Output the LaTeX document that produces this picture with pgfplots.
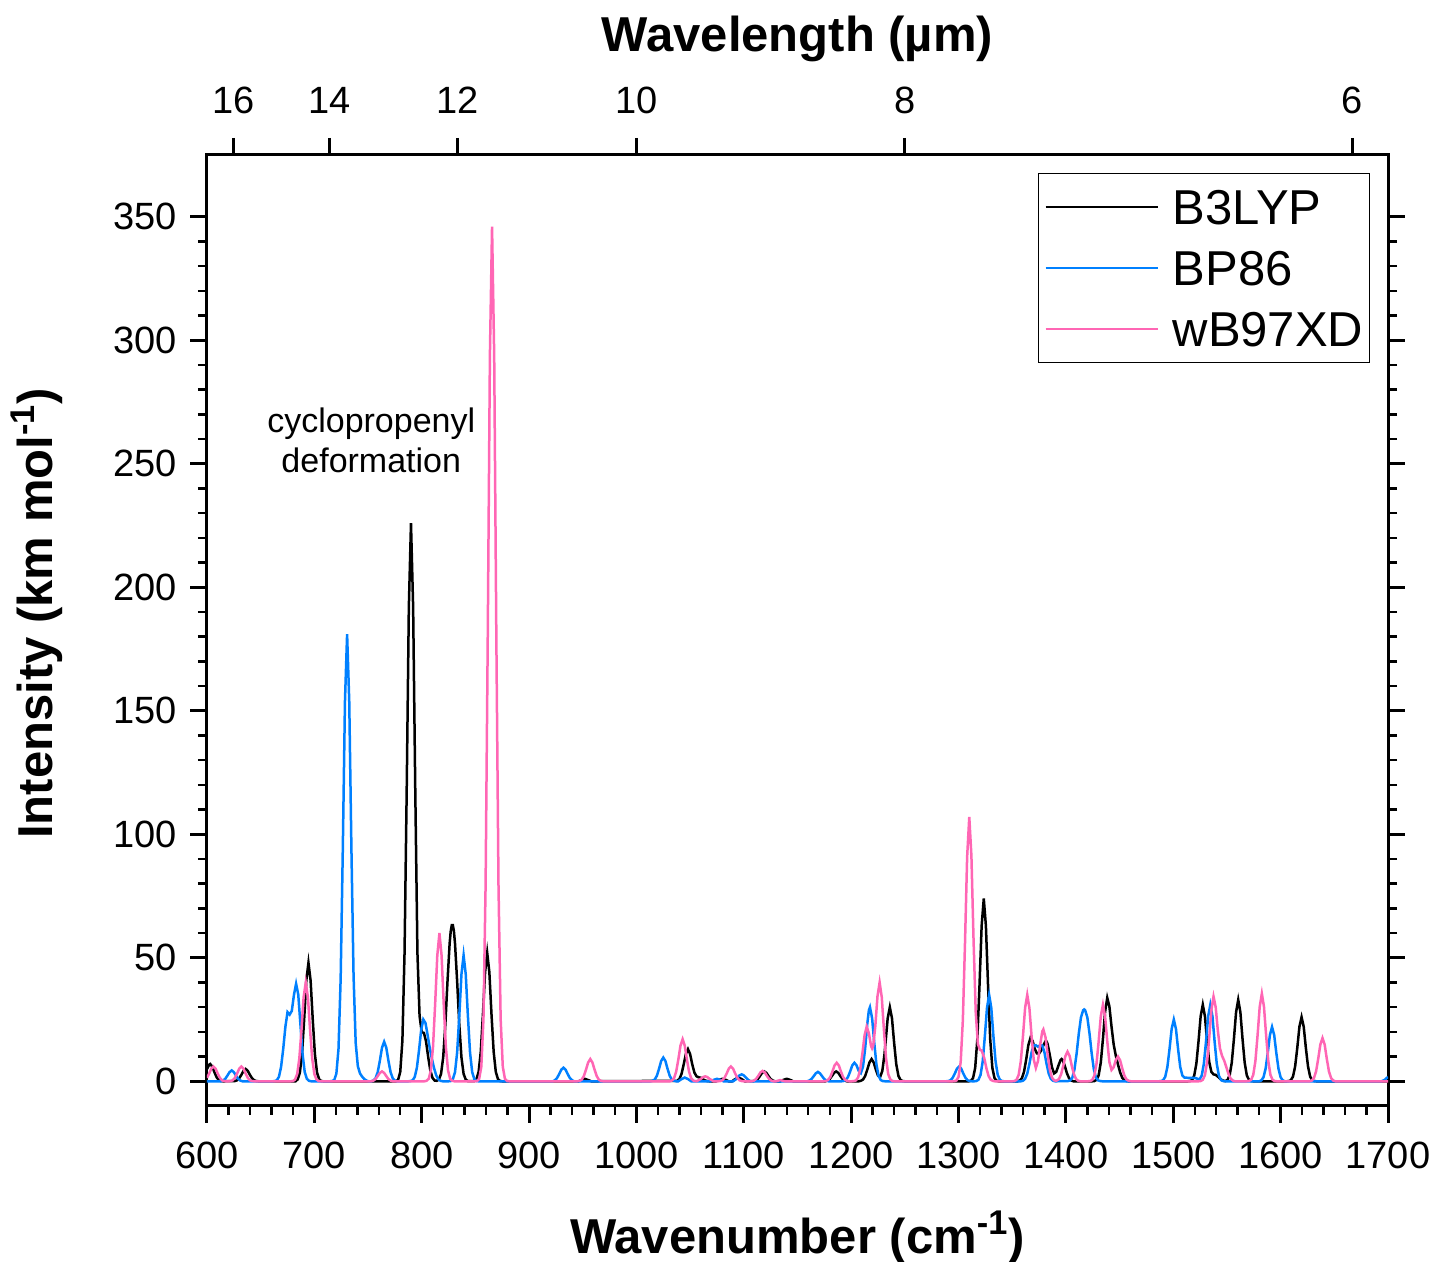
\documentclass[border=0pt]{standalone}
\usepackage{fontspec}
\setmainfont{Liberation Sans}
\usepackage{pgfplots}
\pgfplotsset{compat=1.18}
\definecolor{bpblue}{RGB}{0,128,255}
\definecolor{wbpink}{RGB}{255,102,180}
\begin{document}
\begin{tikzpicture}
\begin{axis}[name=main, scale only axis, width=590.5pt, height=475.5pt,
 xmin=600, xmax=1700, ymin=-10, ymax=375,
 xtick={600,700,...,1700}, ytick={0,50,...,350},
 minor x tick num=4, minor y tick num=4,
 xtick pos=left, ytick pos=both,
 tick align=outside,
 major tick length=8.5pt, minor tick length=4.5pt,
 every major tick/.append style={line width=1.5pt, black},
 every minor tick/.append style={line width=1.2pt, black},
 axis line style={line width=1.5pt},
 ticklabel style={font=\fontsize{19}{21}\selectfont},
 xticklabel style={yshift=-6pt},
 yticklabel style={xshift=-3pt},
 /pgf/number format/assume math mode=true,
 /pgf/number format/1000 sep={},
 xlabel={Wavenumber (cm\textsuperscript{-1})},
 ylabel={Intensity (km mol\textsuperscript{-1})},
 label style={font=\bfseries\fontsize{24.5}{28}\selectfont},
 xlabel style={at={(axis description cs:0.5,-0.1546)}, anchor=base},
 ylabel style={at={(axis description cs:-0.1310,0.518)}, anchor=base},
 legend style={at={(axis description cs:0.9848,0.9811)}, anchor=north east, draw=black, line width=0.75pt,
   inner xsep=3pt, inner ysep=8pt, row sep=13pt, column sep=7pt,
   font=\fontsize{24.5}{28}\selectfont,
   nodes={inner sep=0pt, text height=17.5pt, text depth=0pt}},
 legend cell align=left,
 legend image code/.code={\draw[#1, line width=1pt] (0pt,0pt) -- (56pt,0pt);},
]
\addplot[black, line width=1.25pt] coordinates {
(600,4.9)(602,6.7)(603,7)(605,5.9)(607,3.6)(609,1.6)(611,0.5)(613,0.1)(615,0)
(626,0.1)(628,0.4)(630,1.2)(632,2.6)(634,4.2)(636,5)(638,4.2)(640,2.6)(642,1.2)(644,0.4)(646,0.1)(648,0)
(682.5,0)(684.5,0.8)(686.5,3.5)(688.5,11)(690.5,25)(692.5,40.8)(694.5,48)(696.5,40.8)(698.5,25)(700.5,11)(702.5,3.5)(704.5,0.8)(706.5,0.1)(708.5,0)
(776,0)(778,0.6)(780,3.8)(782,16.5)(784,52)(786,117.5)(788,192)(790,226)(792,192)(794,117.5)(796,52)(798,26.4)(800,19.9)(802,19.6)(804,16.2)(806,9.9)(808,4.4)(810,1.4)(812,0.3)
(814,0.2)(816,0.7)(818,3.0)(820,9.7)(822,22.9)(824,40.4)(826,55.8)(827,60.7)(828,63.2)(829,63.2)(830,60.7)(831,55.8)(833,40.4)(835,22.9)(837,9.7)(839,3.0)(841,0.7)(843,0.1)
(849,0.1)(851,0.9)(853,3.8)(855,12)(857,27)(859,44.1)(861,52)(863,44.1)(865,27)(867,12)(869,3.8)(871,0.9)(873,0.1)(875,0)
(946,0)(949,0.5)(952,1)(955,0.5)(958,0)
(1038,0.2)(1040,0.95)(1042,3)(1044,6.8)(1046,11)(1048,13)(1050,11)(1052,6.8)(1054,3.5)(1056,2.0)(1058,1.6)(1060,1.44)(1062,0.78)(1064,0.35)(1066,0.1)(1068,0)
(1074,0)(1077,0.6)(1080,1)(1083,0.6)(1086,0)
(1089,0)(1092,0.9)(1095,1.5)(1098,0.9)(1101,0)
(1109,0.1)(1111,0.3)(1113,0.9)(1115,2.1)(1117,3.4)(1119,4)(1121,3.4)(1123,2.1)(1125,0.9)(1127,0.3)(1129,0)
(1134,0)(1137,0.6)(1140,1)(1143,0.6)(1146,0)
(1176,0)(1178,0.3)(1180,0.9)(1182,2.1)(1184,3.4)(1186,4)(1188,3.4)(1190,2.1)(1192,0.9)(1194,0.3)(1196,0)
(1207,0)(1209,0.2)(1211,0.7)(1213,2.1)(1215,4.7)(1217,7.6)(1219,9)(1221,7.6)(1223,4.7)(1225,2.3)(1227,1.8)(1229,4.2)(1231,10.8)(1232,15.6)(1234,25.5)(1236,30)(1238,25.5)(1240,15.6)(1242,6.9)(1244,2.2)(1246,0.5)(1248,0.1)(1250,0)
(1309.5,0)(1311.5,0.2)(1313.5,1.3)(1315.5,5.4)(1317.5,17)(1319.5,38.5)(1321.5,62.8)(1323.5,74)(1325.5,62.8)(1327.5,38.5)(1329.5,17)(1331.5,5.4)(1333.5,1.3)(1335.5,0.2)(1337.5,0)
(1355,0)(1357,0.3)(1359,1.2)(1361,3.9)(1363,8.8)(1365,14.6)(1367,17.6)(1369,16.3)(1371,13.1)(1373,11.3)(1375,11.2)(1377,12.5)(1379,14.6)(1381,16.2)(1382,16.1)(1383,15.0)(1385,10.6)(1387,5.7)(1389,3.2)(1391,3.8)(1393,6.3)(1395,8.6)(1396,9)(1397,8.6)(1399,6.2)(1401,3.2)(1403,1.2)(1405,0.3)(1407,0)
(1424.5,0)(1426.5,0.1)(1428.5,0.56)(1430.5,2.4)(1432.5,7.6)(1434.5,17.2)(1436.5,28.2)(1438.5,33.8)(1440.5,30.3)(1442.5,22.1)(1444.5,14.9)(1446.5,10.3)(1448.5,6.8)(1450.5,3.6)(1452.5,1.4)(1454.5,0.4)(1456.5,0.1)(1458.5,0)
(1513.5,0)(1515.5,0.1)(1517.5,0.5)(1519.5,2.3)(1521.5,7.1)(1523.5,16.1)(1525.5,26.3)(1527.5,31)(1529.5,26.3)(1531.5,16.1)(1533.5,7.8)(1535.5,3.8)(1537.5,2.8)(1539.5,2.6)(1541.5,1.9)(1543.5,1.1)(1545.5,0.45)(1547.5,0.13)
(1548.5,0.1)(1550.5,0.56)(1552.5,2.4)(1554.5,7.6)(1556.5,17.2)(1558.5,28.0)(1560.5,33)(1562.5,28)(1564.5,17.2)(1566.5,7.6)(1568.5,2.4)(1570.5,0.56)(1572.5,0.1)(1574.5,0)
(1605.5,0)(1607.5,0.07)(1609.5,0.44)(1611.5,1.9)(1613.5,6.0)(1615.5,13.5)(1617.5,22.1)(1619.5,26)(1621.5,22.1)(1623.5,13.5)(1625.5,6.0)(1627.5,1.9)(1629.5,0.44)(1631.5,0.07)(1633.5,0)
(1700,0)
};
\addlegendentry{B3LYP}
\addplot[bpblue, line width=1.25pt] coordinates {
(600,0)(613,0)(615,0.3)(617,1.0)(619,2.3)(621,3.7)(623,4.4)(625,3.7)(627,2.3)(629,1.0)(631,0.3)(633,0)
(661,0)(663,0.1)(665,0.4)(667,1.8)(669,5.8)(671,13.1)(673,22)(675,28)(677,27)(679,28.5)(681,35)(683,39.5)(685,35.1)(687,23.2)(689,11.1)(691,3.8)(693,1.0)(695,0.2)(697,0)
(714.5,0)(716.5,0.1)(718.5,0.5)(720.5,3.1)(722.5,13.2)(724.5,41.6)(726.5,94.1)(728.5,153.7)(730.5,181)(732.5,153.7)(734.5,94.6)(736.5,42.9)(738.5,15.5)(740.5,6.1)(742.5,3.2)(744.5,1.9)(746.5,0.9)(748.5,0.3)(750.5,0)
(753,0)(755,0.3)(757,1.2)(759,3.7)(761,8.3)(763,13.6)(765,16)(767,13.6)(769,8.3)(771,3.7)(773,1.2)(775,0.3)(777,0)
(787.5,0)(789.5,0.1)(791.5,0.4)(793.5,1.75)(795.5,5.5)(797.5,12.6)(799.5,20.8)(801.5,25)(803.5,23.6)(805.5,18.7)(807.5,13.4)(809.5,9.05)(811.5,5.3)(813.5,2.4)(815.5,0.8)(817.5,0.2)(819.5,0)
(825,0)(827,0.1)(829,0.9)(831,3.7)(833,11.7)(835,26.5)(837,43.3)(839,51)(841,43.3)(843,26.5)(845,11.7)(847,3.7)(849,0.9)(851,0.1)(853,0)
(922,0)(924,0.4)(926,1.3)(928,2.9)(930,4.7)(932,5.5)(934,4.7)(936,2.9)(938,1.3)(940,0.4)(942,0)
(1013,0)(1015,0.2)(1017,0.7)(1019,2.2)(1021,5)(1023,8.2)(1025,9.6)(1027,8.2)(1029,5)(1031,2.2)(1033,0.7)(1035,0.2)(1037,0)
(1039,0)(1042,0.9)(1045,1.5)(1048,0.9)(1051,0)
(1069,0)(1072,0.6)(1075,1)(1078,0.6)(1081,0)
(1090,0)(1092,0.6)(1094,1.5)(1096,2.4)(1098,2.8)(1100,2.4)(1102,1.5)(1104,0.6)(1106,0)
(1159,0)(1161,0.3)(1163,0.9)(1165,2.0)(1167,3.2)(1169,3.8)(1171,3.2)(1173,2.0)(1175,0.9)(1177,0.3)(1179,0)
(1191,0)(1193,0.13)(1195,0.55)(1197,1.7)(1199,3.9)(1201,6.4)(1203,7.5)(1205,6.45)(1207,4.2)(1209,3.3)(1211,5.9)(1213,13.2)(1215,23.3)(1216.5,28.8)(1217.5,30)(1219.5,25.5)(1221.5,15.6)(1223.5,6.9)(1225.5,2.2)(1227.5,0.5)(1229.5,0.1)(1231.5,0)
(1288.5,0)(1290.5,0.1)(1292.5,0.4)(1294.5,1.4)(1296.5,3.1)(1298.5,5.1)(1300.5,6)(1302.5,5.1)(1304.5,3.1)(1306.5,1.4)(1308.5,0.4)(1310.5,0.1)(1312.5,0)
(1314.5,0)(1316.5,0.1)(1318.5,0.6)(1320.5,2.6)(1322.5,8)(1324.5,18.2)(1326.5,29.7)(1328.5,35)(1330.5,29.7)(1332.5,18.2)(1334.5,8)(1336.5,2.6)(1338.5,0.6)(1340.5,0.1)(1342.5,0)
(1358,0)(1360,0.23)(1362,1.0)(1364,3.1)(1366,7.0)(1368,11.7)(1370,14.5)(1372,14.6)(1374,14.0)(1376,14.6)(1378,14.5)(1380,11.7)(1382,7.0)(1384,3.1)(1386,1.0)(1388,0.23)(1390,0)
(1402,0.1)(1404,0.36)(1406,1.5)(1408,4.9)(1410,11.3)(1412,19.3)(1414,25.8)(1416,28.7)(1417,29.1)(1418,28.7)(1420,25.8)(1422,19.3)(1424,11.3)(1426,4.9)(1428,1.5)(1430,0.36)(1432,0.1)(1434,0)
(1486.5,0)(1488.5,0.07)(1490.5,0.43)(1492.5,1.8)(1494.5,5.75)(1496.5,13)(1498.5,21.2)(1500.5,25)(1502.5,21.2)(1504.5,13)(1506.5,5.75)(1508.5,2.3)(1510.5,1.5)(1514,1.4)(1518,1.4)(1521,1.3)(1522.5,1.0)(1524.5,0.8)(1526.5,2.3)(1528.5,7.1)(1530.5,16.1)(1532.5,26.3)(1534.5,31)(1536.5,26.3)(1538.5,16.1)(1540.5,7.1)(1542.5,2.3)(1544.5,0.5)(1546.5,0.1)(1548.5,0)
(1580,0)(1582,0.37)(1584,1.6)(1586,5.1)(1588,11.4)(1590,18.7)(1592,22)(1594,18.7)(1596,11.4)(1598,5.1)(1600,1.6)(1602,0.37)(1604,0)
(1694,0)(1697,0.6)(1700,1.8)
};
\addlegendentry{BP86}
\addplot[wbpink, line width=1.25pt] coordinates {
(600,1.4)(602,3.1)(604,5.1)(606,6)(608,5.1)(610,3.1)(612,1.4)(614,0.4)(616,0.1)(618,0)
(620,0)(622,0.1)(624,0.4)(626,1.4)(628,3.1)(630,5.1)(632,6)(634,5.1)(636,3.1)(638,1.4)(640,0.4)(642,0.1)(644,0)
(678,0)(680,0.1)(682,0.7)(684,2.9)(686,9.2)(688,20.8)(690,34)(692,40)(694,34)(696,20.8)(698,9.2)(700,2.9)(702,0.7)(704,0.1)(706,0)
(753,0)(755,0.3)(757,0.9)(759,2.1)(761,3.4)(763,4)(765,3.4)(767,2.1)(769,0.9)(771,0.3)(773,0)
(802.5,0)(804.5,0.2)(806.5,1)(808.5,4.4)(810.5,13.8)(812.5,31.2)(814.5,50.9)(816.5,60)(818.5,50.9)(820.5,31.2)(822.5,13.8)(824.5,4.4)(826.5,1)(828.5,0.2)(830.5,0)
(849.5,0)(851.5,0.1)(853.5,1)(855.5,5.9)(857.5,25.3)(859.5,79.6)(861.5,179.9)(863.5,293.8)(865.5,346)(867.5,293.8)(869.5,179.9)(871.5,79.6)(873.5,25.3)(875.5,5.9)(877.5,1)(879.5,0.1)(881.5,0)
(945,0)(947,0.15)(949,0.66)(951,2.1)(953,4.7)(955,7.6)(957,9)(959,7.6)(961,4.7)(963,2.1)(965,0.66)(967,0.15)(969,0)
(1031,0)(1033,0.3)(1035,1.2)(1037,3.9)(1039,8.8)(1041,14.4)(1043,17)(1045,14.4)(1047,8.8)(1049,3.9)(1051,1.2)(1053,0.3)(1055,0.05)
(1056,0)(1058,0.5)(1060,1)(1062,1.7)(1064,2)(1066,1.7)(1068,1)(1070,0.5)(1072,0)
(1076,0)(1078,0.1)(1080,0.4)(1082,1.4)(1084,3.1)(1086,5.1)(1088,6)(1090,5.1)(1092,3.1)(1094,1.4)(1096,0.4)(1098,0.1)(1100,0)
(1107.5,0)(1109.5,0.3)(1111.5,1.0)(1113.5,2.2)(1115.5,3.6)(1117.5,4.2)(1119.5,3.6)(1121.5,2.2)(1123.5,1.0)(1125.5,0.3)(1127.5,0)
(1130,0)(1134,0.5)(1138,0)
(1174.5,0)(1176.5,0.13)(1178.5,0.55)(1180.5,1.7)(1182.5,3.9)(1184.5,6.4)(1186.5,7.5)(1188.5,6.4)(1190.5,3.9)(1192.5,1.7)(1194.5,0.55)(1196.5,0.13)(1198.5,0)
(1200.5,0)(1202.5,0.1)(1204.5,0.37)(1206.5,1.6)(1208.5,5.1)(1210.5,11.4)(1212.5,18.7)(1214.5,22.1)(1216.5,19.4)(1218.5,14.3)(1219.5,13.3)(1220.5,14.3)(1222.5,22.4)(1224.5,34.4)(1226.5,40)(1228.5,34)(1230.5,20.8)(1232.5,9.2)(1234.5,2.9)(1236.5,0.7)(1238.5,0.1)(1240.5,0)
(1294,0)(1296,0.05)(1298,0.3)(1300,1.8)(1302,7.8)(1304,24.6)(1306,55.6)(1308,90.8)(1310,107)(1312,91.1)(1314,56.8)(1316,28.1)(1318,15.1)(1320,12.7)(1321.5,12.5)(1324,9.3)(1326,5.2)(1328,2.1)(1330,0.6)(1332,0.15)(1334,0)
(1350,0)(1352,0.1)(1354,0.6)(1356,2.6)(1358,8.1)(1360,18.2)(1362,29.7)(1364,35)(1366,29.7)(1368,18.4)(1370,8.9)(1372,5.4)(1374,8.2)(1376,14.7)(1378,20.2)(1379,21)(1381,17.8)(1383,10.9)(1385,4.8)(1387,1.5)(1389,0.4)(1391,0.2)(1393.5,0.9)(1395.5,2.8)(1397.5,6.2)(1399.5,10.2)(1401.5,12)(1403.5,10.2)(1405.5,6.2)(1407.5,2.8)(1409.5,0.9)(1411.5,0.2)(1413.5,0)
(1420.5,0)(1422.5,0.1)(1424.5,0.5)(1426.5,2.3)(1428.5,7.1)(1430.5,16.1)(1432.5,26.3)(1434.5,31)(1436.5,26.3)(1438.5,16.3)(1440.5,7.8)(1442.5,4.6)(1444.5,5.7)(1446.5,8.6)(1448.5,10)(1450.5,8.5)(1452.5,5.2)(1454.5,2.3)(1456.5,0.7)(1458.5,0.2)(1460.5,0)
(1523.5,0)(1525.5,0.1)(1527.5,0.6)(1529.5,2.5)(1531.5,7.8)(1533.5,17.7)(1535.5,28.9)(1537.5,34.3)(1539.5,30)(1541.5,20.6)(1543.5,13.3)(1545.5,10.2)(1547.5,8.3)(1549.5,5.6)(1551.5,2.9)(1553.5,1.1)(1555.5,0.3)(1557.5,0)
(1568.5,0)(1570.5,0.1)(1572.5,0.6)(1574.5,2.6)(1576.5,8.2)(1578.5,18.5)(1580.5,30.1)(1582.5,35.5)(1584.5,30.1)(1586.5,18.5)(1588.5,8.2)(1590.5,2.6)(1592.5,0.6)(1594.5,0.1)(1596.5,0)
(1627,0)(1629,0.3)(1631,1.3)(1633,4)(1635,9.1)(1637,14.9)(1639,17.5)(1641,14.9)(1643,9.1)(1645,4)(1647,1.3)(1649,0.3)(1651,0)(1700,0)
};
\addlegendentry{wB97XD}
\node[align=center, font=\fontsize{17}{20}\selectfont] at (axis cs:753,259.5) {cyclopropenyl\\deformation};
\end{axis}
\begin{axis}[scale only axis, width=590.5pt, height=475.5pt,
 at={(main.south west)}, anchor=south west,
 xmin=600, xmax=1700, ymin=-10, ymax=375,
 axis x line*=top, axis y line=none,
 xtick={625,714.2857,833.3333,1000,1250,1666.6667},
 xticklabels={16,14,12,10,8,6},
 minor xtick={},
 tick align=outside, major tick length=8.5pt,
 every major tick/.append style={line width=1.5pt, black},
 axis line style={line width=1.5pt},
 ticklabel style={font=\fontsize{19}{21}\selectfont},
 xticklabel style={yshift=8.5pt},
 xlabel={Wavelength (µm)},
 xlabel style={font=\bfseries\fontsize{24.5}{28}\selectfont, at={(axis description cs:0.5,1.1083)}, anchor=base},
]
\addplot[draw=none] coordinates {(600,0) (1700,0)};
\end{axis}
\pgfresetboundingbox
\path[use as bounding box] ([xshift=-103.5pt,yshift=-78pt]main.south west) rectangle ([xshift=24.5pt,yshift=77.5pt]main.north east);
\end{tikzpicture}
\end{document}
